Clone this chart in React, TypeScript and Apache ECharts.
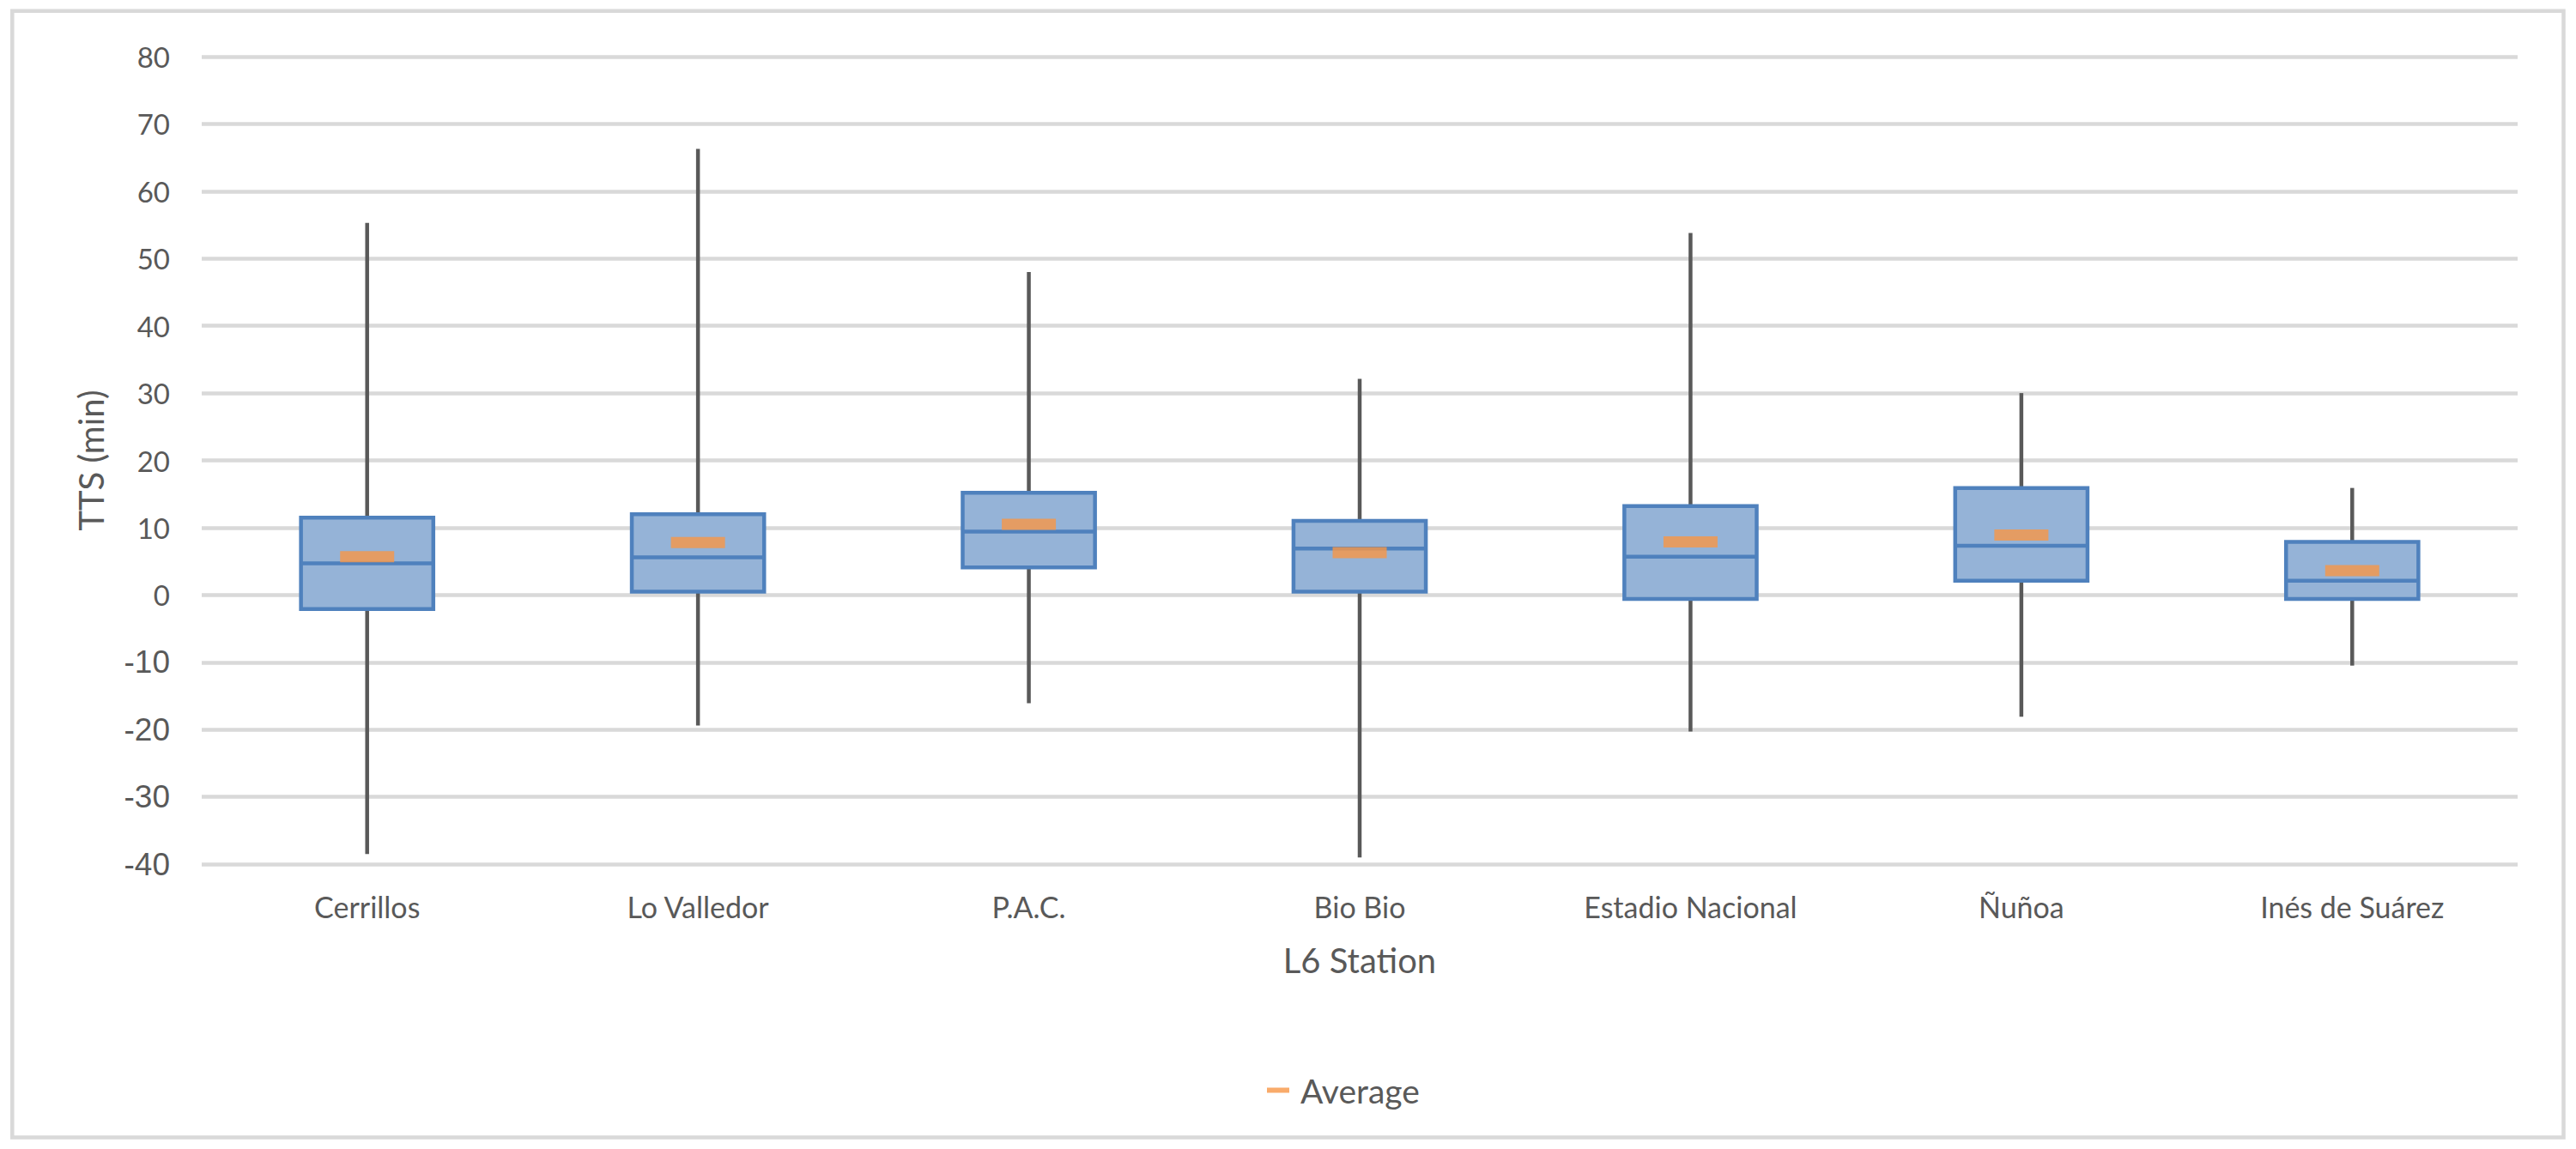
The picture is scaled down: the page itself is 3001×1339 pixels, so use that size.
import React, { useEffect, useRef } from "react";
import * as echarts from "echarts";

const categories = ["Cerrillos", "Lo Valledor", "P.A.C.", "Bio Bio", "Estadio Nacional", "Ñuñoa", "Inés de Suárez"];
const minValues = [-38.5, -19.4, -16.1, -39.0, -20.3, -18.1, -10.5];
const q1Values = [-2.1, 0.5, 4.1, 0.5, -0.6, 2.1, -0.6];
const medianValues = [4.7, 5.6, 9.4, 6.9, 5.7, 7.3, 2.1];
const q3Values = [11.5, 12.0, 15.2, 11.0, 13.2, 15.9, 7.9];
const maxValues = [55.3, 66.3, 48.0, 32.1, 53.8, 30.0, 15.9];
const meanValues = [5.7, 7.8, 10.5, 6.3, 7.9, 8.9, 3.6];

const TEXT = "#595959";

export default function App() {
  const ref = useRef<HTMLDivElement>(null);
  useEffect(() => {
    if (!ref.current) return;
    const chart = echarts.init(ref.current, undefined, { renderer: "svg" });
    const boxData = categories.map((_, i) => [i, minValues[i], q1Values[i], medianValues[i], q3Values[i], maxValues[i]]);
    chart.setOption({
      animation: false,
      backgroundColor: "#ffffff",
      graphic: [
        {
          type: "rect",
          silent: true,
          z: -1,
          shape: { x: 14.3, y: 12.7, width: 2972.2, height: 1312.8 },
          style: { fill: "none", stroke: "#D9D9D9", lineWidth: 4.5 },
        },
      ],
      grid: { left: 235, right: 68, top: 66, bottom: 332 },
      legend: {
        data: ["Average"],
        left: 1471,
        top: 1246,
        icon: "rect",
        itemWidth: 26,
        itemHeight: 6,
        textStyle: { fontFamily: "Lato", fontSize: 39, color: TEXT, padding: [0, 0, 0, 8] },
      },
      xAxis: {
        type: "category",
        data: categories,
        boundaryGap: true,
        axisLine: { show: false },
        axisTick: { show: false },
        axisLabel: { fontFamily: "Lato", fontSize: 34, color: TEXT, margin: 32 },
        name: "L6 Station",
        nameLocation: "middle",
        nameGap: 92,
        nameTextStyle: { fontFamily: "Lato", fontSize: 40, color: TEXT },
      },
      yAxis: {
        type: "value",
        min: -40,
        max: 80,
        interval: 10,
        axisLine: { show: false },
        axisTick: { show: false },
        splitLine: { lineStyle: { color: "#D9D9D9", width: 4.5 } },
        axisLabel: {
          margin: 37,
          formatter: (v: number) => (v < 0 ? `{n|${v}}` : `{p|${v}}`),
          rich: {
            n: { fontFamily: "Liberation Sans", fontSize: 37, color: TEXT },
            p: { fontFamily: "Lato", fontSize: 33, color: TEXT },
          },
        },
        name: "TTS (min)",
        nameLocation: "middle",
        nameGap: 109,
        nameRotate: 90,
        nameTextStyle: { fontFamily: "Lato", fontSize: 40, color: TEXT },
      },
      series: [
        {
          name: "Box",
          type: "custom",
          z: 2,
          data: boxData,
          encode: { x: 0, y: [1, 2, 3, 4, 5] },
          renderItem: (params: any, api: any) => {
            const i = api.value(0);
            const pMin = api.coord([i, api.value(1)]);
            const pQ1 = api.coord([i, api.value(2)]);
            const pMed = api.coord([i, api.value(3)]);
            const pQ3 = api.coord([i, api.value(4)]);
            const pMax = api.coord([i, api.value(5)]);
            const x = pMin[0];
            const w = api.size([1, 0])[0] * 0.4;
            return {
              type: "group",
              children: [
                { type: "line", shape: { x1: x, y1: pMax[1], x2: x, y2: pQ3[1] }, style: { stroke: "#595959", lineWidth: 4.5 } },
                { type: "line", shape: { x1: x, y1: pQ1[1], x2: x, y2: pMin[1] }, style: { stroke: "#595959", lineWidth: 4.5 } },
                {
                  type: "rect",
                  shape: { x: x - w / 2, y: pQ3[1], width: w, height: pQ1[1] - pQ3[1] },
                  style: { fill: "#95B3D7", stroke: "#4F81BD", lineWidth: 4.5 },
                },
                {
                  type: "line",
                  shape: { x1: x - w / 2, y1: pMed[1], x2: x + w / 2, y2: pMed[1] },
                  style: { stroke: "#4F81BD", lineWidth: 4.5 },
                },
              ],
            };
          },
        },
        {
          name: "Average",
          type: "scatter",
          z: 3,
          symbol: "rect",
          symbolSize: [63, 13],
          itemStyle: { color: "#F79646" },
          data: meanValues.map((m, i) => [i, m]),
        },
      ],
    });
    return () => chart.dispose();
  }, []);
  return <div ref={ref} style={{ position: "absolute", left: 0, top: 0, width: 3001, height: 1339 }} />;
}
